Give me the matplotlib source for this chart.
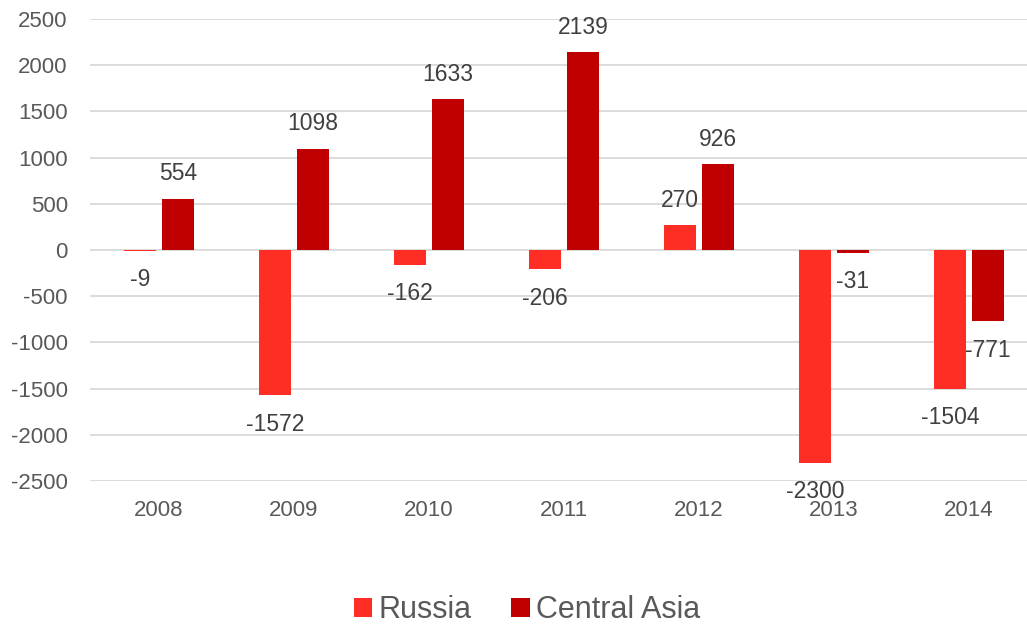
import matplotlib
matplotlib.use("Agg")
import matplotlib.pyplot as plt
from matplotlib.patches import Patch
import numpy as np

years = ["2008", "2009", "2010", "2011", "2012", "2013", "2014"]
russia = [-9, -1572, -162, -206, 270, -2300, -1504]
central_asia = [554, 1098, 1633, 2139, 926, -31, -771]
series_names = ["Russia", "Central Asia"]
colors = ["#FF2E24", "#C00000"]
yticks = [-2500, -2000, -1500, -1000, -500, 0, 500, 1000, 1500, 2000, 2500]

plt.rcParams['font.family'] = ['Liberation Sans', 'DejaVu Sans']
W, H = 1027, 630
fig = plt.figure(figsize=(W / 100, H / 100), dpi=100)
left, right, top, bottom = 90, 1027, 19, 481
ax = fig.add_axes([left / W, 1 - bottom / H, (right - left) / W, (bottom - top) / H])

x = np.arange(len(years))
bw = 0.235
off = 0.14
for vals, sign, c in [(russia, -1, colors[0]), (central_asia, 1, colors[1])]:
    xs = x + sign * off
    ax.bar(xs, vals, width=bw, color=c, zorder=3)
    for xi, v in zip(xs, vals):
        dy = 25 if v >= 0 else -29
        ax.annotate(str(v), (xi, v), xytext=(0, dy), textcoords='offset pixels',
                    ha='center', va='center', fontsize=16.5, color='#404040', zorder=4)

ax.set_ylim(-2500, 2500)
ax.set_xlim((left - 159) / 135, (right - 159) / 135)
ax.set_yticks(yticks)
ax.set_yticklabels([str(t) for t in yticks])
ax.set_xticks(x)
ax.set_xticklabels(years)
ax.tick_params(axis='both', length=0, labelsize=16, labelcolor='#595959')
ax.tick_params(axis='y', pad=16)
ax.tick_params(axis='x', pad=14)
ax.grid(axis='y', color='#D9D9D9', linewidth=1.3, zorder=0)
for s in ax.spines.values():
    s.set_visible(False)

handles = [Patch(facecolor=c, edgecolor='none') for c in colors]
fig.legend(handles, series_names, loc='center', bbox_to_anchor=(527 / W, 1 - 610 / H),
           ncol=2, frameon=False, fontsize=22, handlelength=0.6, handleheight=0.6,
           handletextpad=0.2, columnspacing=1.3, labelcolor='#595959')

fig.savefig("out.png", dpi=100)
